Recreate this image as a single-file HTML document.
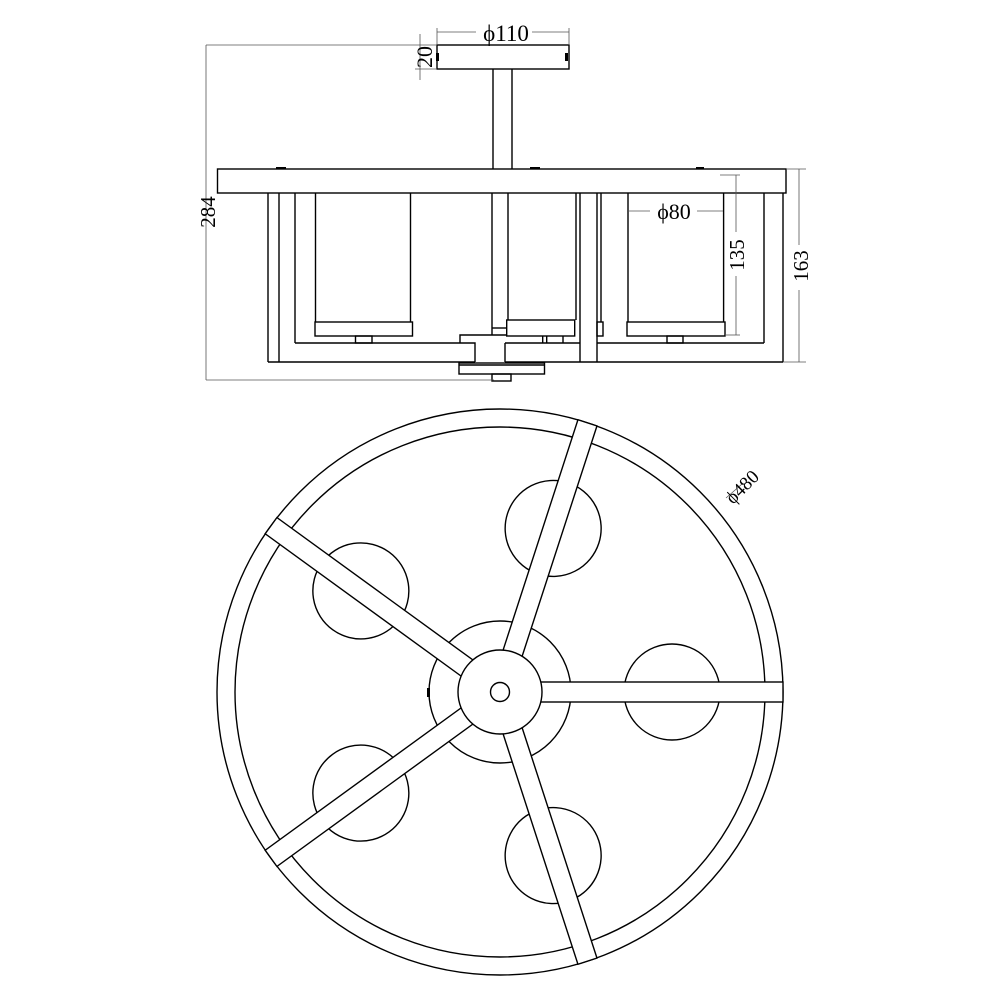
<!DOCTYPE html>
<html><head><style>
html,body{margin:0;padding:0;background:#fff;}
svg{display:block;}
text{font-family:"Liberation Serif",serif;fill:#000;}
</style></head><body>
<svg width="1000" height="1000" viewBox="0 0 1000 1000" xmlns="http://www.w3.org/2000/svg">
<g fill="none" stroke="#000" stroke-width="1.4">
<rect x="437" y="45" width="132" height="24" fill="#fff"/>
<line x1="493" y1="69" x2="493" y2="169"/><line x1="512" y1="69" x2="512" y2="169"/>
<rect x="217.5" y="169" width="568.5" height="24"/>
<line x1="268" y1="193" x2="268" y2="362"/><line x1="279" y1="193" x2="279" y2="362"/>
<line x1="295" y1="193" x2="295" y2="343"/>
<line x1="268" y1="362" x2="475" y2="362"/>
<line x1="295" y1="343" x2="460" y2="343"/>
<line x1="315.5" y1="193" x2="315.5" y2="322"/><line x1="410.5" y1="193" x2="410.5" y2="322"/>
<rect x="315" y="322" width="97.5" height="14"/>
<rect x="355.5" y="336" width="16.5" height="7"/>
<line x1="492" y1="193" x2="492" y2="335"/><line x1="508" y1="193" x2="508" y2="320"/>
<line x1="492" y1="328" x2="506" y2="328"/>
<polyline points="460,343 460,335 506.7,335"/>
<polyline points="460,343 475,343 475,362"/>
<line x1="505" y1="343" x2="505" y2="362"/>
<line x1="505" y1="343" x2="580" y2="343"/>
<line x1="505" y1="362" x2="783" y2="362"/>
<rect x="459" y="363" width="85.5" height="11"/>
<line x1="459" y1="365" x2="544.5" y2="365"/>
<rect x="492" y="374" width="19" height="7"/>
<line x1="576" y1="193" x2="576" y2="320"/>
<rect x="506.7" y="320" width="68" height="16"/>
<line x1="542.7" y1="336" x2="542.7" y2="343"/><line x1="546.7" y1="336" x2="546.7" y2="343"/><line x1="563" y1="336" x2="563" y2="343"/>
<line x1="580" y1="193" x2="580" y2="362"/><line x1="597" y1="193" x2="597" y2="362"/>
<line x1="601" y1="193" x2="601" y2="322"/>
<rect x="597" y="322" width="6" height="14"/>
<line x1="628" y1="193" x2="628" y2="322"/><line x1="723.6" y1="193" x2="723.6" y2="322"/>
<rect x="627" y="322" width="98" height="14"/>
<rect x="667" y="336" width="16" height="7"/>
<line x1="597" y1="343" x2="764" y2="343"/>
<line x1="764" y1="193" x2="764" y2="343"/>
<line x1="783" y1="193" x2="783" y2="362"/>
</g>
<g fill="#000"><rect x="276" y="167" width="10" height="2"/><rect x="530" y="167" width="10" height="2"/><rect x="696" y="167" width="8" height="2"/><rect x="565" y="53" width="3" height="8"/><rect x="436" y="53" width="3" height="8"/></g>
<g stroke="#555" stroke-width="0.8" fill="none">
<line x1="206" y1="45" x2="437" y2="45"/><line x1="206" y1="380" x2="494" y2="380"/>
<line x1="206" y1="45" x2="206" y2="380"/>
<line x1="437" y1="28" x2="437" y2="45"/><line x1="569" y1="28" x2="569" y2="45"/>
<line x1="437" y1="32" x2="476" y2="32"/><line x1="532" y1="32" x2="569" y2="32"/>
<line x1="420" y1="34" x2="420" y2="80"/>
<line x1="415" y1="69" x2="437" y2="69"/>
<line x1="786" y1="169" x2="806" y2="169"/><line x1="783" y1="362" x2="806" y2="362"/>
<line x1="799" y1="169" x2="799" y2="245"/><line x1="799" y1="290" x2="799" y2="362"/>
<line x1="720" y1="175" x2="740" y2="175"/><line x1="725" y1="335" x2="740" y2="335"/>
<line x1="736" y1="175" x2="736" y2="232"/><line x1="736" y1="276" x2="736" y2="335"/>
<line x1="628" y1="211" x2="650" y2="211"/><line x1="697" y1="211" x2="723" y2="211"/>
<line x1="726" y1="498" x2="742" y2="484"/>
</g>
<text x="506" y="41" font-size="23" text-anchor="middle">ϕ110</text>
<text transform="translate(432,57) rotate(-90)" font-size="22" text-anchor="middle">20</text>
<text transform="translate(215,212) rotate(-90)" font-size="21" text-anchor="middle">284</text>
<text transform="translate(808,266) rotate(-90)" font-size="21" text-anchor="middle">163</text>
<text transform="translate(744,255) rotate(-90)" font-size="21" text-anchor="middle">135</text>
<text x="674" y="219" font-size="22" text-anchor="middle">ϕ80</text>
<text transform="translate(733,505) rotate(-45)" font-size="19">ϕ480</text>
<g stroke="#000" stroke-width="1.4" fill="#fff">
<circle cx="500" cy="692" r="283"/>
<circle cx="500" cy="692" r="265"/>
<g transform="translate(500,692)">
<circle cx="172" cy="0" r="48" transform="rotate(0)"/>
<circle cx="172" cy="0" r="48" transform="rotate(-72)"/>
<circle cx="172" cy="0" r="48" transform="rotate(-144)"/>
<circle cx="172" cy="0" r="48" transform="rotate(144)"/>
<circle cx="172" cy="0" r="48" transform="rotate(72)"/>
<circle cx="0" cy="0" r="71"/>
<rect x="30" y="-10" width="253" height="20" transform="rotate(0)"/>
<rect x="30" y="-10" width="253" height="20" transform="rotate(-72)"/>
<rect x="30" y="-10" width="253" height="20" transform="rotate(-144)"/>
<rect x="30" y="-10" width="253" height="20" transform="rotate(144)"/>
<rect x="30" y="-10" width="253" height="20" transform="rotate(72)"/>
<circle cx="0" cy="0" r="42"/>
<circle cx="0" cy="0" r="9.5"/>
</g>
</g>
<rect x="427" y="688" width="3" height="9" fill="#000"/>
</svg>
</body></html>
